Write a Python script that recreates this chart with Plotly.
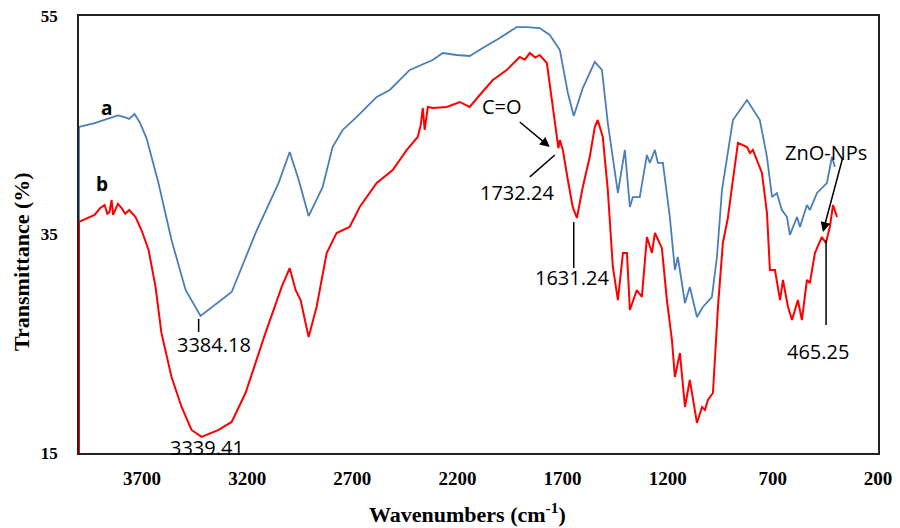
import plotly.graph_objects as go

# Spectrum a (blue)
wn_a = [4000, 4000, 3926, 3880, 3845, 3815, 3784, 3761, 3736, 3712, 3679, 3622, 3560, 3493, 3422,
        3322, 3274, 3160, 3051, 2998, 2955, 2908, 2870, 2841, 2794, 2746, 2679,
        2584, 2522, 2427, 2318, 2270, 2204, 2142, 2080, 1999, 1918, 1870, 1809,
        1761, 1713, 1675, 1647, 1604, 1547, 1513, 1485, 1437, 1404, 1380, 1366,
        1333, 1299, 1285, 1261, 1247, 1223, 1190, 1166, 1152, 1118, 1095, 1061,
        1033, 990, 966, 942, 914, 890, 823, 762, 728, 704, 681, 657, 633, 619,
        585, 571, 538, 524, 490, 443, 419, 405]
t_a = [15, 44.84, 45.2, 45.5, 45.66, 45.9, 45.75, 45.57, 46.03, 45.3, 43.83, 39.71, 34.5, 29.92, 27.55,
       29.0, 29.74, 35.14, 39.71, 42.55, 39.99, 36.69, 38.16, 39.35, 43.01, 44.57, 45.76,
       47.59, 48.23, 50.06, 50.97, 51.61, 51.43, 51.34, 52.07, 52.99, 53.99, 53.99, 53.9,
       53.26, 51.89, 47.95, 45.85, 48.41, 50.79, 50.06, 45.2, 38.8, 42.74, 37.52, 38.43,
       38.43, 42.28, 41.55, 42.74, 41.55, 41.55, 36.6, 31.75, 32.94, 28.73, 30.2, 27.45,
       28.37, 29.28, 32.94, 39.07, 42.46, 45.48, 47.31, 45.48, 42.09, 38.43, 38.8, 37.24,
       36.6, 34.96, 36.6, 35.69, 37.7, 37.24, 38.8, 39.71, 42.09, 41.18]

# Spectrum b (red)
wn_b = [4000, 4000, 3926, 3900, 3878, 3865, 3855, 3845, 3838, 3831, 3815, 3798, 3780, 3761,
        3731, 3703, 3669, 3636, 3608, 3560, 3512, 3465, 3417, 3336, 3274, 3208,
        3113, 3036, 2998, 2970, 2946, 2908, 2870, 2822, 2775, 2713, 2665, 2584,
        2508, 2441, 2389, 2375, 2365, 2356, 2341, 2318, 2251, 2189, 2142, 2094,
        2032, 1966, 1904, 1880, 1856, 1830, 1809, 1775, 1751, 1728, 1720, 1713, 1699, 1675,
        1652, 1632, 1604, 1571, 1547, 1533, 1509, 1485, 1461, 1437, 1413, 1394,
        1380, 1347, 1323, 1299, 1275, 1261, 1228, 1204, 1180, 1166, 1142, 1118,
        1095, 1061, 1037, 1023, 1009, 985, 961, 938, 914, 890, 866, 823, 809, 795,
        752, 728, 714, 690, 666, 652, 628, 609, 581, 562, 538, 524, 500, 467, 448,
        429, 414, 395]
t_b = [15, 36.15, 36.79, 37.4, 37.7, 36.9, 37.06, 38.16, 36.8, 37.06, 37.8, 37.43, 36.9, 37.24,
       36.6, 35.41, 33.58, 30.2, 25.99, 21.96, 19.21, 17.11, 16.47, 17.11, 17.84, 20.49,
       25.99, 30.2, 31.93, 29.92, 29.0, 25.62, 28.37, 33.31, 35.14, 35.69, 37.52, 39.71,
       40.9, 42.74, 43.93, 45.0, 46.58, 44.57, 46.67, 46.58, 46.67, 47.13, 46.67, 47.77,
       49.14, 50.06, 51.25, 51.0, 51.61, 51.2, 51.43, 50.7, 47.31, 43.65, 42.9, 43.65, 42.74, 39.99,
       37.52, 36.51, 39.35, 42.09, 44.84, 45.48, 43.93, 39.07, 32.03, 29.0, 33.31, 33.31,
       28.09, 29.92, 29.28, 34.77, 33.31, 35.14, 33.77, 29.0, 25.34, 21.96, 24.15, 19.21,
       21.68, 17.75, 19.21, 18.94, 19.85, 20.49, 28.37, 34.2, 36.51, 39.99, 43.38, 43.01, 42.46, 42.74,
       40.63, 36.97, 31.75, 31.75, 29.0, 30.84, 28.37, 27.17, 29.0, 27.17, 30.84, 30.56, 33.31, 34.77, 34.22,
       35.69, 37.7, 36.6]

x_ticks = [3700, 3200, 2700, 2200, 1700, 1200, 700, 200]
y_ticks = [15, 35, 55]

fig = go.Figure()
fig.add_trace(go.Scatter(x=wn_a, y=t_a, mode="lines", line=dict(color="#4A7EBB", width=1.8),
                         name="a", showlegend=False))
fig.add_trace(go.Scatter(x=wn_b, y=t_b, mode="lines", line=dict(color="#FF0000", width=2),
                         name="b", showlegend=False))

fig.update_layout(
    width=900, height=528,
    margin=dict(l=79, r=22, t=16, b=75, autoexpand=False),
    plot_bgcolor="white", paper_bgcolor="white",
    xaxis=dict(range=[4000, 200], tickvals=x_ticks, ticktext=[str(v) for v in x_ticks],
               showgrid=False, zeroline=False, showline=True, mirror=True, automargin=False,
               linecolor="#222222", linewidth=1.5, ticks="", layer="below traces",
               tickfont=dict(family="Liberation Serif, serif", size=19, color="black", weight="bold"),
               ticklabelstandoff=7),
    yaxis=dict(range=[15, 55], tickvals=y_ticks, showgrid=False, zeroline=False, automargin=False,
               showline=True, mirror=True, linecolor="#222222", linewidth=1.5, ticks="",
               layer="below traces",
               tickfont=dict(family="Liberation Serif, serif", size=17, color="black", weight="bold"),
               ticklabelstandoff=16),
)

ann_font = dict(family="Open Sans, sans-serif", size=20, color="black")
labels = [
    ("3384.18", 3360, 24.89), ("3339.41", 3389, 15.47),
    ("1732.24", 1918, 38.89), ("1631.24", 1656, 31.02), ("ZnO-NPs", 447, 42.55),
    ("465.25", 486, 24.25),
]
for txt, x, y in labels:
    fig.add_annotation(x=x, y=y, text=txt, showarrow=False, font=ann_font,
                       xanchor="center", yanchor="middle")

for txt, x, y in [("a", 3869, 46.58), ("b", 3893, 39.62)]:
    fig.add_annotation(x=x, y=y, text=txt, showarrow=False, xanchor="center", yanchor="middle",
                       font=dict(family="Open Sans, sans-serif", size=19, color="black", weight="bold"))

# C=O label with its arrow
fig.add_annotation(x=1761, y=43.01, ax=-48, ay=-40, text="C=O", font=ann_font, showarrow=True,
                   arrowhead=2, arrowsize=1.3, arrowwidth=1.5, arrowcolor="black", standoff=0)
# ZnO-NPs arrow
fig.add_annotation(x=462, y=35.23, ax=20, ay=-75, text="", showarrow=True,
                   arrowhead=2, arrowsize=1.3, arrowwidth=1.5, arrowcolor="black", standoff=0)

# leader lines
for x0, y0, x1, y1 in [(3431, 27.27, 3431, 26.08), (1856, 40.27, 1737, 42.28),
                       (1647, 36.15, 1647, 31.93), (447, 34.5, 447, 26.72)]:
    fig.add_shape(type="line", xref="x", yref="y", x0=x0, y0=y0, x1=x1, y1=y1,
                  line=dict(color="black", width=1.5))

# axis titles
fig.add_annotation(xref="paper", yref="paper", x=(467 - 79) / 799, y=(453 - 513) / 437,
                   xanchor="center", yanchor="middle",
                   text="Wavenumbers (cm<sup>-1</sup>)", showarrow=False,
                   font=dict(family="Liberation Serif, serif", size=22, color="black", weight="bold"))
fig.add_annotation(xref="paper", yref="paper", x=(21 - 79) / 799, y=(453 - 262) / 437,
                   xanchor="center", yanchor="middle",
                   text="Transmittance (%)", textangle=-90, showarrow=False,
                   font=dict(family="Liberation Serif, serif", size=22, color="black", weight="bold"))

fig.write_html("out.html", config={"displayModeBar": False},
               post_script="document.body.style.margin='0';")
